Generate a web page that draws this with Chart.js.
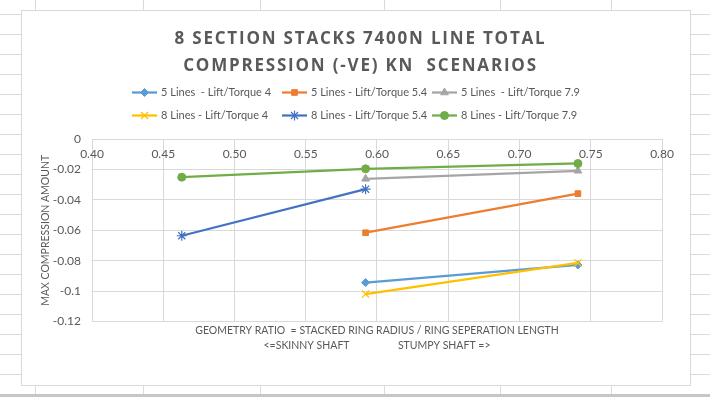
<!DOCTYPE html>
<html>
<head>
<meta charset="utf-8">
<script src="https://cdn.jsdelivr.net/npm/chart.js@4.4.1/dist/chart.umd.min.js"></script>
<style>
html, body { margin: 0; padding: 0; }
body {
  width: 710px; height: 397px; position: relative; overflow: hidden; background: #fff;
  background-image: repeating-linear-gradient(to bottom, transparent 0, transparent 14px, #dadada 14px, #dadada 15px, transparent 15px, transparent 20px);
}
.col { position: absolute; top: 0; width: 1px; height: 395px; background: #dadada; }
.sheet-bottom { position: absolute; left: 0; top: 394px; width: 710px; height: 3px; background: #c6c6c6; }
#frame {
  position: absolute; left: 21px; top: 10px; width: 668px; height: 374px;
  border: 1px solid #d9d9d9; background: #fff;
}
canvas { display: block; }
</style>
</head>
<body>
<div class="col" style="left:35px"></div>
<div class="col" style="left:143px"></div>
<div class="col" style="left:260px"></div>
<div class="col" style="left:384px"></div>
<div class="col" style="left:500px"></div>
<div class="col" style="left:611px"></div>
<div class="sheet-bottom"></div>
<div id="frame"><canvas id="chart" width="668" height="374"></canvas></div>
<script>
const titleLines = ['8 SECTION STACKS 7400N LINE TOTAL', 'COMPRESSION (-VE) KN  SCENARIOS'];
const xAxisTitle = ['GEOMETRY RATIO  = STACKED RING RADIUS / RING SEPERATION LENGTH',
                    '<=SKINNY SHAFT                  STUMPY SHAFT =>'];
const yAxisTitle = 'MAX COMPRESSION AMOUNT';

// geometry ratio for the three stack designs
const geometryRatio = [0.463, 0.592, 0.741];

const seriesNames = ['5 Lines  - Lift/Torque 4', '5 Lines - Lift/Torque 5.4', '5 Lines  - Lift/Torque 7.9',
                     '8 Lines - Lift/Torque 4', '8 Lines - Lift/Torque 5.4', '8 Lines - Lift/Torque 7.9'];
const lines5Torque4  = [null, -0.0944, -0.0828];
const lines5Torque54 = [null, -0.0616, -0.0359];
const lines5Torque79 = [null, -0.0262, -0.0209];
const lines8Torque4  = [null, -0.1019, -0.0815];
const lines8Torque54 = [-0.0636, -0.0330, null];
const lines8Torque79 = [-0.0251, -0.0196, -0.0161];

const xTickValues = [0.40, 0.45, 0.50, 0.55, 0.60, 0.65, 0.70, 0.75, 0.80];
const yTickValues = [0, -0.02, -0.04, -0.06, -0.08, -0.10, -0.12];

const seriesColors = ['#5B9BD5', '#ED7D31', '#A5A5A5', '#FFC000', '#4472C4', '#70AD47'];
const markerStyles = ['rectRot', 'rect', 'triangle', 'crossRot', 'star', 'circle'];
const markerSizes = [4, 4, 4.5, 5, 5, 4];

const allSeries = [lines5Torque4, lines5Torque54, lines5Torque79, lines8Torque4, lines8Torque54, lines8Torque79];
const textColor = '#595959';
const gridColor = '#d9d9d9';

const datasets = allSeries.map((vals, i) => {
  const open = markerStyles[i] === 'crossRot' || markerStyles[i] === 'star';
  return {
    label: seriesNames[i],
    data: geometryRatio.map((x, k) => ({ x: x, y: vals[k] })).filter(p => p.y !== null),
    borderColor: seriesColors[i],
    backgroundColor: seriesColors[i],
    borderWidth: 2.25,
    pointStyle: markerStyles[i],
    pointRadius: markerSizes[i],
    pointBorderWidth: open ? 1.2 : 1,
    pointBackgroundColor: seriesColors[i],
    pointBorderColor: seriesColors[i],
    tension: 0,
    fill: false,
    order: allSeries.length - i
  };
});

// title and excel style legend (3 columns, line + marker)
const headerPlugin = {
  id: 'header',
  afterDraw(chart) {
    const ctx = chart.ctx;
    const cx = chart.width / 2;
    ctx.save();
    ctx.fillStyle = textColor;
    ctx.textAlign = 'center';
    ctx.textBaseline = 'middle';
    ctx.font = 'bold 17px "Open Sans"';
    ctx.letterSpacing = '1.8px';
    titleLines.forEach((t, i) => ctx.fillText(t, cx + 4.5, 28.5 + i * 27));
    ctx.letterSpacing = '0px';

    ctx.font = '11px Lato';
    ctx.textAlign = 'left';
    const lineLen = 25, gap = 4;
    let maxW = 0;
    seriesNames.forEach(n => { maxW = Math.max(maxW, lineLen + gap + ctx.measureText(n).width); });
    const colW = maxW + 2;
    const x0 = cx + 1 - colW * 3 / 2;
    seriesNames.forEach((n, i) => {
      const x = x0 + (i % 3) * colW;
      const y = 81.5 + Math.floor(i / 3) * 23;
      ctx.strokeStyle = seriesColors[i];
      ctx.lineWidth = 2.25;
      ctx.beginPath();
      ctx.moveTo(x, y);
      ctx.lineTo(x + lineLen, y);
      ctx.stroke();
      ctx.fillStyle = seriesColors[i];
      ctx.lineWidth = datasets[i].pointBorderWidth;
      Chart.helpers.drawPoint(ctx, {
        pointStyle: markerStyles[i], radius: markerSizes[i], rotation: 0,
        borderWidth: datasets[i].pointBorderWidth
      }, x + lineLen / 2, y);
      ctx.fillStyle = textColor;
      ctx.fillText(n, x + lineLen + gap, y);
    });
    ctx.restore();
  }
};

new Chart(document.getElementById('chart'), {
  type: 'line',
  data: { datasets: datasets },
  plugins: [headerPlugin],
  options: {
    responsive: false,
    animation: false,
    devicePixelRatio: 1,
    layout: { padding: { left: 13, right: 28, top: 128, bottom: 0 } },
    plugins: {
      legend: { display: false },
      tooltip: { enabled: false },
      title: { display: false },
      subtitle: {
        display: true,
        position: 'bottom',
        fullSize: false,
        text: xAxisTitle,
        color: textColor,
        font: { family: 'Lato', size: 10.5, lineHeight: 1.45, weight: 'normal' },
        padding: { top: 1, bottom: 32 }
      }
    },
    scales: {
      x: {
        type: 'linear',
        position: { y: 0 },
        min: 0.4,
        max: 0.8,
        afterBuildTicks: s => { s.ticks = xTickValues.map(v => ({ value: v })); },
        ticks: {
          callback: v => v.toFixed(2),
          color: textColor,
          font: { family: 'Lato', size: 12 },
          padding: 8,
          maxRotation: 0,
          autoSkip: false
        },
        grid: { color: gridColor, drawTicks: false },
        border: { color: gridColor }
      },
      y: {
        type: 'linear',
        min: -0.12,
        max: 0,
        afterBuildTicks: s => { s.ticks = yTickValues.map(v => ({ value: v })); },
        afterFit: s => { s.width = 57; },
        ticks: {
          callback: v => String(parseFloat(v.toFixed(2))),
          color: textColor,
          font: { family: 'Lato', size: 12 },
          padding: 11
        },
        grid: { color: gridColor, drawTicks: false },
        border: { display: false },
        title: {
          display: true,
          text: yAxisTitle,
          color: textColor,
          font: { family: 'Lato', size: 10.5 },
          padding: { top: 4, bottom: 2 }
        }
      }
    }
  }
});
</script>
</body>
</html>
